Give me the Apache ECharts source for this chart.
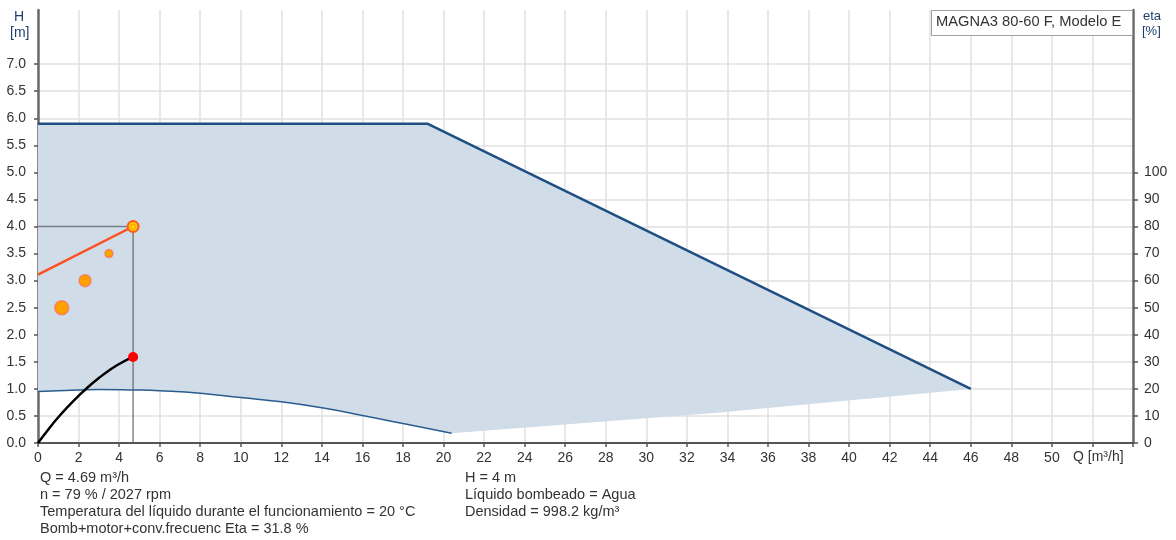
<!DOCTYPE html>
<html>
<head>
<meta charset="utf-8">
<script src="https://cdn.jsdelivr.net/npm/echarts@6/dist/echarts.min.js"></script>
<style>
  html, body { margin: 0; padding: 0; background: #fff; }
  #chart { width: 1176px; height: 540px; }
</style>
</head>
<body>
<div id="chart"></div>
<script>
// Pump curve data: flow Q [m³/h], head H [m], efficiency eta [%]
const envelopeTop = [[0, 5.9], [19.2, 5.9], [46, 1.0]];
const envelopeBottomCurve = [[0, 0.95], [2, 0.98], [3, 0.99], [4.7, 0.98], [6, 0.965], [8, 0.92],
  [10, 0.84], [12, 0.76], [14, 0.65], [16, 0.51], [18, 0.36], [20.4, 0.18]];
const envelopeBottomEdge = [[20.4, 0.18], [33.5, 0.56], [46, 1.0]];
const systemLine = [[0, 3.11], [4.69, 4.0]];
const dutyGuide = [[0, 4.0], [4.69, 4.0], [4.69, 0]];
const setpointDots = [[1.17, 2.5, 14], [2.32, 3.0, 12], [3.5, 3.5, 8]];
const dutyPoint = [4.69, 4.0];
const etaCurve = [[0, 0], [0.5, 4.9], [1, 9.5], [1.5, 13.6], [2, 17.4], [2.5, 20.9],
  [3, 24.0], [3.5, 26.8], [4, 29.2], [4.69, 31.8]];
const etaPoint = [4.69, 31.8];

// labelled ticks
const headTicks = [0, 0.5, 1, 1.5, 2, 2.5, 3, 3.5, 4, 4.5, 5, 5.5, 6, 6.5, 7];
const etaTicks = [0, 10, 20, 30, 40, 50, 60, 70, 80, 90, 100];

const infoLeft = ['Q = 4.69 m³/h', 'n = 79 % / 2027 rpm',
  'Temperatura del líquido durante el funcionamiento = 20 °C',
  'Bomb+motor+conv.frecuenc Eta = 31.8 %'];
const infoRight = ['H = 4 m', 'Líquido bombeado = Agua', 'Densidad = 998.2 kg/m³'];

const FONT = '"Liberation Sans", Arial, sans-serif';
const TXT = '#333';
const INFO_FONT = '14.5px ' + FONT;

const chart = echarts.init(document.getElementById('chart'), null, { renderer: 'canvas' });

const textLines = (lines, x) => lines.map((t, i) => ({
  type: 'text', left: x, top: 470 + i * 17,
  style: { text: t, font: INFO_FONT, fill: TXT }
}));

const option = {
  animation: false,
  backgroundColor: '#fff',
  grid: { left: 38, right: 43, top: 10, bottom: 97, containLabel: false },
  xAxis: {
    type: 'value', min: 0, max: 54, interval: 2,
    axisLine: { show: true, onZero: false, lineStyle: { color: '#555', width: 2 } },
    axisTick: { show: true, length: 4, lineStyle: { color: '#555', width: 1.5 } },
    axisLabel: { color: TXT, fontSize: 14, fontFamily: FONT, margin: 8, hideOverlap: false,
      formatter: v => (v <= 50 ? String(v) : '') },
    splitLine: { show: true, lineStyle: { color: '#e0e0e0', width: 1.5 } }
  },
  yAxis: [{
    type: 'value', min: 0, max: 8, interval: 0.5,
    axisLine: { show: true, lineStyle: { color: '#6a6a6a', width: 2.5 } },
    axisTick: { show: true, length: 4, customValues: headTicks,
      lineStyle: { color: '#555', width: 1.5 } },
    axisLabel: { color: TXT, fontSize: 14, fontFamily: FONT, margin: 12,
      customValues: headTicks, formatter: v => v.toFixed(1) },
    splitLine: { show: true, lineStyle: { color: '#e0e0e0', width: 1.5 } }
  }, {
    type: 'value', min: 0, max: 160, interval: 10, position: 'right',
    axisLine: { show: true, lineStyle: { color: '#6a6a6a', width: 2.5 } },
    axisTick: { show: true, length: 5, customValues: etaTicks,
      lineStyle: { color: '#555', width: 1.5 } },
    axisLabel: { color: TXT, fontSize: 14, fontFamily: FONT, margin: 11,
      customValues: etaTicks, formatter: v => String(v) },
    splitLine: { show: false }
  }],
  graphic: [
    { type: 'text', left: 14, top: 10, style: { text: 'H', font: '14px ' + FONT, fill: '#1d3f6e' } },
    { type: 'text', left: 10, top: 26, style: { text: '[m]', font: '14px ' + FONT, fill: '#1d3f6e' } },
    { type: 'text', left: 1143, top: 10, style: { text: 'eta', font: '13px ' + FONT, fill: '#1d3f6e' } },
    { type: 'text', left: 1142, top: 25, style: { text: '[%]', font: '13px ' + FONT, fill: '#1d3f6e' } },
    { type: 'text', left: 1073, top: 450, style: { text: 'Q [m³/h]', font: '14px ' + FONT, fill: TXT } },
    { type: 'rect', left: 931, top: 10, shape: { width: 201, height: 25 },
      style: { fill: '#fff', stroke: '#a0a0a0', lineWidth: 1 }, z: 100 },
    { type: 'text', left: 936, top: 14, z: 101,
      style: { text: 'MAGNA3 80-60 F, Modelo E', font: '14.7px ' + FONT, fill: TXT } },
    ...textLines(infoLeft, 40),
    ...textLines(infoRight, 465)
  ],
  series: [
    {
      // shaded operating envelope
      type: 'custom', silent: true, z: 1, clip: true,
      data: [[0, 0]],
      renderItem: (params, api) => {
        const ring = [].concat(envelopeTop, envelopeBottomEdge.slice(1).reverse(),
          envelopeBottomCurve.slice().reverse());
        return {
          type: 'polygon',
          shape: { points: ring.map(p => api.coord(p)), smooth: 0 },
          style: { fill: '#d0dce8' }
        };
      }
    },
    { type: 'line', data: envelopeTop, symbol: 'none', z: 3,
      lineStyle: { color: '#1f4e82', width: 2.5 } },
    { type: 'line', data: envelopeBottomCurve, symbol: 'none', smooth: true, z: 3,
      lineStyle: { color: '#2b5c8f', width: 1.5 } },
    { type: 'line', data: dutyGuide, symbol: 'none', z: 4,
      lineStyle: { color: 'rgba(90,95,100,0.75)', width: 1.5 } },
    { type: 'line', data: systemLine, symbol: 'none', z: 5,
      lineStyle: { color: '#ff4f1c', width: 2.5 } },
    { type: 'scatter', data: setpointDots, z: 6,
      symbolSize: d => d[2],
      itemStyle: { color: '#ffa200', borderColor: 'rgba(255,90,90,0.55)', borderWidth: 1.5, opacity: 1 } },
    { type: 'scatter', data: [dutyPoint], z: 7, symbolSize: 11,
      itemStyle: { color: '#ffcc00', borderColor: '#ff5a1f', borderWidth: 2, opacity: 1 } },
    { type: 'scatter', data: [dutyPoint], z: 8, symbolSize: 5,
      itemStyle: { color: '#ffd400', borderColor: '#ff9a00', borderWidth: 1, opacity: 1 } },
    { type: 'line', yAxisIndex: 1, data: etaCurve, symbol: 'none', smooth: true, z: 6,
      lineStyle: { color: '#000', width: 2.5 } },
    { type: 'scatter', yAxisIndex: 1, data: [etaPoint], z: 7, symbolSize: 10,
      itemStyle: { color: '#ff0000', opacity: 1 } }
  ]
};

chart.setOption(option);
</script>
</body>
</html>
